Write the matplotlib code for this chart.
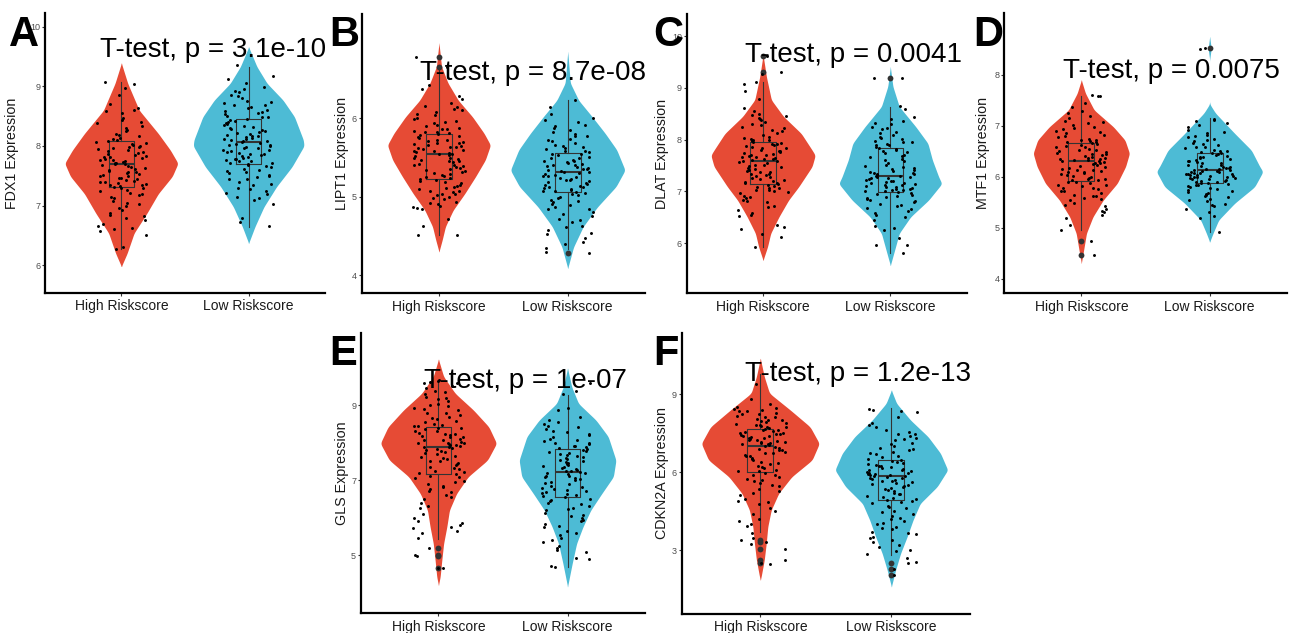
import numpy as np
import matplotlib.pyplot as plt

plt.rcParams['font.family'] = ['Liberation Sans', 'DejaVu Sans']

# ---- data ----
groups = ["High Riskscore", "Low Riskscore"]
genes = ["FDX1", "LIPT1", "DLAT", "MTF1", "GLS", "CDKN2A"]
panel_letters = ["A", "B", "C", "D", "E", "F"]
p_labels = ["3.1e-10", "8.7e-08", "0.0041", "0.0075", "1e-07", "1.2e-13"]
y_ticks = [[6, 7, 8, 9, 10], [4, 5, 6], [6, 7, 8, 9, 10], [4, 5, 6, 7, 8], [5, 7, 9], [3, 6, 9]]
y_limits = [(5.54, 10.23), (3.77, 7.33), (5.03, 10.43), (3.71, 9.21), (3.45, 10.92), (0.54, 11.36)]

# jittered sample values (expression), one list per gene and group
fdx1_high = [9.08, 9.04, 8.97, 8.85, 8.70, 8.64, 8.61, 8.55, 8.47, 8.44, 8.38, 8.31, 8.26, 8.20, 8.16, 8.12, 8.10,
             8.08, 8.05, 8.03, 8.00, 7.98, 7.95, 7.93, 7.90, 7.87, 7.85, 7.82, 7.80, 7.78, 7.76, 7.74, 7.72, 7.71, 7.70,
             7.68, 7.66, 7.63, 7.60, 7.58, 7.56, 7.53, 7.50, 7.49, 7.47, 7.45, 7.42, 7.40, 7.38, 7.36, 7.34, 7.33, 7.32,
             7.29, 7.25, 7.20, 7.14, 7.08, 7.05, 7.00, 6.93, 6.88, 6.82, 6.76, 6.70, 6.62, 6.57, 6.50, 6.31, 6.28,
             8.25, 8.18, 8.13, 8.07, 8.02, 7.97, 7.92, 7.89, 7.84, 7.81, 7.77, 7.73, 7.69, 7.64, 7.61, 7.57, 7.54,
             7.51, 7.46, 7.43, 7.39, 7.35, 7.30, 7.27, 7.22, 7.17, 7.12, 7.02, 6.96, 6.85, 6.79, 6.66, 6.60, 8.40,
             8.58, 8.33, 7.99]
fdx1_low = [9.36, 9.18, 9.12, 9.06, 8.99, 8.95, 8.90, 8.86, 8.80, 8.76, 8.72, 8.68, 8.65, 8.61, 8.57, 8.54, 8.51, 8.48,
            8.45, 8.42, 8.40, 8.37, 8.35, 8.32, 8.29, 8.27, 8.24, 8.22, 8.19, 8.17, 8.15, 8.12, 8.10, 8.09, 8.08,
            8.06, 8.04, 8.02, 8.00, 7.98, 7.96, 7.93, 7.91, 7.89, 7.87, 7.85, 7.83, 7.80, 7.78, 7.76, 7.74, 7.72, 7.71,
            7.68, 7.65, 7.62, 7.58, 7.55, 7.52, 7.48, 7.44, 7.40, 7.34, 7.28, 7.25, 7.20, 7.15, 7.10, 7.02, 6.80, 6.72,
            6.66, 8.92, 8.83, 8.74, 8.63, 8.55, 8.49, 8.43, 8.38, 8.33, 8.30, 8.25, 8.20, 8.16, 8.13, 8.11, 8.05,
            8.01, 7.97, 7.94, 7.90, 7.86, 7.82, 7.79, 7.75, 7.69, 7.66, 7.60, 7.56, 7.50, 7.45, 7.37, 7.30, 7.22,
            7.12, 8.69, 8.59]
lipt1_high = [6.78, 6.66, 6.42, 6.38, 6.25, 6.20, 6.16, 6.12, 6.10, 6.06, 6.04, 6.00, 5.97, 5.94, 5.92, 5.90, 5.88, 5.86,
              5.84, 5.82, 5.81, 5.79, 5.77, 5.75, 5.73, 5.71, 5.69, 5.68, 5.66, 5.64, 5.63, 5.61, 5.60, 5.58, 5.57, 5.56,
              5.54, 5.52, 5.50, 5.48, 5.46, 5.44, 5.42, 5.40, 5.38, 5.36, 5.34, 5.32, 5.30, 5.28, 5.26, 5.25, 5.24,
              5.22, 5.20, 5.17, 5.14, 5.12, 5.10, 5.08, 5.06, 5.04, 5.02, 5.00, 4.97, 4.94, 4.91, 4.88, 4.86, 4.84,
              4.72, 4.63, 4.51, 4.51, 6.28, 6.14, 6.08, 5.99, 5.95, 5.87, 5.83, 5.80, 5.76, 5.72, 5.70, 5.67, 5.65,
              5.62, 5.59, 5.55, 5.53, 5.49, 5.45, 5.41, 5.37, 5.33, 5.29, 5.23, 5.19, 5.15, 5.11, 5.07, 5.03, 4.98,
              4.92, 4.87, 5.47, 5.39]
lipt1_low = [6.24, 6.15, 6.05, 6.00, 5.95, 5.92, 5.88, 5.85, 5.80, 5.77, 5.74, 5.71, 5.68, 5.65, 5.63, 5.61, 5.59, 5.57,
             5.55, 5.53, 5.51, 5.49, 5.47, 5.45, 5.43, 5.42, 5.40, 5.38, 5.37, 5.35, 5.34, 5.33, 5.32,
             5.30, 5.28, 5.27, 5.25, 5.24, 5.22, 5.20, 5.18, 5.16, 5.14, 5.12, 5.11, 5.10, 5.09, 5.08, 5.07,
             5.05, 5.02, 4.99, 4.96, 4.93, 4.90, 4.87, 4.84, 4.80, 4.76, 4.72, 4.68, 4.63, 4.58, 4.54, 4.47, 4.42,
             4.35, 4.30, 4.28, 5.98, 5.90, 5.83, 5.78, 5.72, 5.66, 5.62, 5.58, 5.54, 5.50, 5.46, 5.44, 5.41, 5.36,
             5.31, 5.29, 5.26, 5.23, 5.19, 5.15, 5.13, 5.06, 5.03, 5.00, 4.95, 4.91, 4.85, 4.78, 4.70, 4.61, 4.52,
             4.40, 5.39, 5.21]
dlat_high = [9.62, 9.30, 9.27, 9.12, 9.08, 8.95, 8.78, 8.62, 8.55, 8.50, 8.45, 8.42, 8.38, 8.34, 8.28, 8.22, 8.16, 8.10,
             8.06, 8.02, 7.99, 7.97, 7.94, 7.92, 7.89, 7.86, 7.84, 7.81, 7.78, 7.76, 7.73, 7.71, 7.68, 7.66, 7.64, 7.62,
             7.60, 7.58, 7.55, 7.52, 7.49, 7.46, 7.43, 7.40, 7.37, 7.34, 7.31, 7.28, 7.25, 7.22, 7.19, 7.16, 7.15,
             7.12, 7.09, 7.06, 7.03, 7.00, 6.96, 6.92, 6.88, 6.84, 6.80, 6.72, 6.65, 6.58, 6.52, 6.35, 6.32, 6.28,
             6.18, 6.12, 5.93, 8.48, 8.40, 8.31, 8.25, 8.19, 8.13, 8.04, 8.00, 7.96, 7.91, 7.87, 7.83, 7.79, 7.74,
             7.70, 7.67, 7.63, 7.59, 7.56, 7.51, 7.47, 7.42, 7.38, 7.33, 7.29, 7.24, 7.20, 7.17, 7.11, 7.07, 7.02,
             6.98, 6.90, 6.82, 6.70, 6.55]
dlat_low = [9.20, 9.19, 8.65, 8.60, 8.40, 8.36, 8.30, 8.25, 8.20, 8.15, 8.10, 8.06, 8.02, 7.98, 7.95, 7.92, 7.89, 7.86,
            7.84, 7.81, 7.78, 7.74, 7.70, 7.66, 7.62, 7.58, 7.54, 7.50, 7.47, 7.44, 7.41, 7.38, 7.35, 7.33, 7.31,
            7.29, 7.27, 7.25, 7.23, 7.21, 7.19, 7.17, 7.15, 7.13, 7.11, 7.09, 7.07, 7.05, 7.03, 7.01, 7.00,
            6.98, 6.95, 6.92, 6.89, 6.86, 6.83, 6.80, 6.76, 6.72, 6.68, 6.62, 6.55, 6.50, 6.33, 6.30, 6.25, 6.10,
            5.97, 5.97, 5.80, 8.44, 8.33, 8.22, 8.12, 8.04, 7.96, 7.90, 7.82, 7.76, 7.68, 7.60, 7.52, 7.45, 7.39,
            7.34, 7.30, 7.28, 7.24, 7.20, 7.16, 7.12, 7.08, 7.04, 7.02, 6.97, 6.93, 6.87, 6.81, 6.74, 6.66, 6.58,
            6.45, 7.36, 7.26]
mtf1_high = [7.60, 7.59, 7.58, 7.45, 7.37, 7.30, 7.20, 7.15, 7.10, 7.05, 7.02, 6.98, 6.94, 6.90, 6.86, 6.82, 6.78, 6.75,
             6.72, 6.70, 6.68, 6.66, 6.64, 6.61, 6.58, 6.55, 6.52, 6.50, 6.47, 6.45, 6.42, 6.40, 6.37, 6.35, 6.33,
             6.32, 6.30, 6.28, 6.25, 6.22, 6.19, 6.16, 6.13, 6.10, 6.07, 6.04, 6.01, 5.98, 5.96, 5.94, 5.93,
             5.90, 5.87, 5.84, 5.81, 5.78, 5.75, 5.72, 5.69, 5.65, 5.62, 5.58, 5.54, 5.48, 5.42, 5.36, 5.30, 5.24,
             5.18, 5.05, 4.95, 4.74, 4.47, 7.25, 7.08, 6.96, 6.88, 6.80, 6.73, 6.69, 6.63, 6.59, 6.53, 6.48, 6.44,
             6.39, 6.34, 6.31, 6.27, 6.23, 6.18, 6.14, 6.09, 6.05, 6.00, 5.95, 5.89, 5.83, 5.77, 5.71, 5.63, 5.56,
             5.45, 5.33, 6.36, 6.26, 6.12]
mtf1_low = [8.52, 8.51, 7.14, 7.12, 7.10, 7.05, 6.98, 6.92, 6.86, 6.82, 6.78, 6.74, 6.70, 6.66, 6.62, 6.59, 6.56, 6.53,
            6.50, 6.48, 6.46, 6.44, 6.41, 6.39, 6.36, 6.33, 6.31, 6.28, 6.26, 6.24, 6.22, 6.20, 6.18, 6.16, 6.15,
            6.13, 6.12, 6.10, 6.08, 6.06, 6.05, 6.03, 6.01, 6.00, 5.98, 5.96, 5.94, 5.92, 5.90, 5.89, 5.88,
            5.86, 5.84, 5.81, 5.78, 5.75, 5.72, 5.70, 5.67, 5.64, 5.60, 5.56, 5.52, 5.47, 5.42, 5.37, 5.30, 5.22,
            5.19, 4.91, 7.02, 6.88, 6.80, 6.72, 6.64, 6.58, 6.51, 6.47, 6.43, 6.38, 6.34, 6.30, 6.27, 6.23, 6.19,
            6.17, 6.14, 6.11, 6.09, 6.07, 6.04, 6.02, 5.99, 5.97, 5.95, 5.91, 5.87, 5.83, 5.79, 5.74, 5.68, 5.62,
            5.54, 5.44, 6.06, 6.00]
gls_high = [9.66, 9.64, 9.62, 9.58, 9.52, 9.45, 9.38, 9.30, 9.22, 9.15, 9.10, 9.04, 8.98, 8.92, 8.86, 8.80, 8.74, 8.68,
            8.62, 8.56, 8.50, 8.45, 8.40, 8.35, 8.30, 8.26, 8.22, 8.18, 8.14, 8.10, 8.06, 8.02, 7.99, 7.96, 7.93,
            7.90, 7.88, 7.85, 7.80, 7.75, 7.70, 7.65, 7.60, 7.55, 7.50, 7.45, 7.40, 7.35, 7.30, 7.25, 7.20, 7.17,
            7.12, 7.05, 6.98, 6.90, 6.82, 6.75, 6.68, 6.60, 6.50, 6.40, 6.30, 6.25, 6.10, 6.00, 5.90, 5.80, 5.72,
            5.65, 5.60, 5.45, 5.20, 5.00, 4.97, 4.67, 4.67, 9.60, 9.35, 9.18, 9.00, 8.90, 8.78, 8.66, 8.58, 8.48,
            8.43, 8.38, 8.32, 8.24, 8.16, 8.08, 8.00, 7.94, 7.89, 7.83, 7.77, 7.72, 7.62, 7.52, 7.42, 7.32, 7.22,
            7.08, 6.95, 6.85, 6.70, 6.55, 5.85, 5.75, 8.20, 7.98]
gls_low = [9.59, 9.38, 9.30, 8.91, 8.87, 8.69, 8.55, 8.50, 8.42, 8.35, 8.28, 8.22, 8.16, 8.10, 8.05, 8.00, 7.96, 7.92,
           7.88, 7.85, 7.80, 7.76, 7.72, 7.68, 7.64, 7.60, 7.56, 7.52, 7.48, 7.44, 7.40, 7.36, 7.32, 7.28, 7.25,
           7.20, 7.15, 7.10, 7.05, 7.00, 6.95, 6.90, 6.85, 6.80, 6.76, 6.72, 6.68, 6.64, 6.60, 6.56,
           6.50, 6.44, 6.38, 6.32, 6.26, 6.20, 6.12, 6.05, 5.98, 5.90, 5.82, 5.75, 5.65, 5.55, 5.45, 5.35, 5.25,
           5.15, 5.08, 4.93, 4.90, 4.72, 4.69, 8.60, 8.45, 8.32, 8.19, 8.08, 7.98, 7.90, 7.82, 7.78, 7.70, 7.62,
           7.54, 7.46, 7.38, 7.30, 7.22, 7.18, 7.12, 7.02, 6.92, 6.82, 6.74, 6.66, 6.58, 6.47, 6.35, 6.22, 6.08,
           5.94, 5.78, 5.60, 5.40, 5.20, 7.08, 7.25]
cdkn2a_high = [9.37, 8.80, 8.62, 8.50, 8.42, 8.38, 8.33, 8.28, 8.22, 8.16, 8.10, 8.05, 8.00, 7.95, 7.90, 7.85, 7.80,
               7.76, 7.72, 7.68, 7.62, 7.58, 7.54, 7.50, 7.45, 7.40, 7.36, 7.32, 7.28, 7.24, 7.20, 7.16, 7.12, 7.08,
               7.04, 6.96, 6.90, 6.84, 6.78, 6.72, 6.66, 6.60, 6.54, 6.48, 6.40, 6.32, 6.24, 6.16, 6.08, 6.03,
               5.96, 5.88, 5.80, 5.72, 5.65, 5.56, 5.46, 5.35, 5.28, 5.10, 4.95, 4.85, 4.78, 4.60, 4.50, 4.20, 4.10,
               3.92, 3.65, 3.45, 3.40, 3.30, 3.25, 3.05, 2.60, 2.50, 2.47, 8.45, 8.36, 8.25, 8.13, 8.02, 7.92, 7.82,
               7.74, 7.66, 7.60, 7.52, 7.46, 7.38, 7.30, 7.22, 7.14, 7.06, 7.00, 6.93, 6.86, 6.75, 6.63, 6.50, 6.36,
               6.20, 6.05, 5.90, 5.68, 5.50, 5.20, 4.90, 4.40, 4.00, 7.44, 7.10]
cdkn2a_low = [8.43, 8.40, 8.36, 8.10, 7.90, 7.75, 7.62, 7.55, 7.48, 7.40, 7.32, 7.22, 7.12, 7.02, 6.92, 6.84, 6.76,
              6.68, 6.60, 6.52, 6.42, 6.38, 6.32, 6.26, 6.22, 6.18, 6.12, 6.08, 6.04, 6.00, 5.96, 5.93, 5.90, 5.88,
              5.86, 5.82, 5.76, 5.70, 5.64, 5.58, 5.52, 5.46, 5.40, 5.34, 5.28, 5.20, 5.14, 5.08, 5.02, 4.96,
              4.88, 4.80, 4.70, 4.60, 4.50, 4.40, 4.30, 4.20, 4.10, 4.00, 3.90, 3.80, 3.70, 3.60, 3.50, 3.40, 3.30,
              3.20, 3.10, 2.95, 2.85, 2.70, 2.55, 2.50, 2.28, 2.05, 8.30, 7.80, 7.45, 7.28, 7.08, 6.88, 6.72, 6.56,
              6.45, 6.35, 6.24, 6.14, 6.06, 5.98, 5.91, 5.84, 5.78, 5.66, 5.55, 5.43, 5.31, 5.17, 5.05, 4.94, 4.84,
              4.65, 4.45, 4.25, 4.05, 3.85, 3.65, 3.45, 3.00, 5.72, 5.60]

# box statistics: (lower whisker, q1, median, q3, upper whisker) and outliers
box_high = [(6.28, 7.31, 7.69, 8.09, 9.08), (4.51, 5.23, 5.55, 5.80, 6.62), (5.93, 7.14, 7.59, 7.95, 9.12),
            (4.95, 5.92, 6.31, 6.67, 7.59), (5.44, 7.15, 7.87, 8.42, 9.67), (3.70, 6.01, 7.00, 7.65, 9.79)]
box_low = [(6.65, 7.70, 8.07, 8.46, 9.33), (4.34, 5.06, 5.31, 5.56, 6.23), (5.80, 6.99, 7.30, 7.83, 8.64),
           (4.92, 5.87, 6.14, 6.47, 7.15), (4.69, 6.54, 7.22, 7.82, 9.27), (2.81, 4.92, 5.85, 6.46, 8.45)]
outliers_high = [[], [6.78, 6.66], [9.30, 9.62], [4.74, 4.47], [5.20, 5.00, 4.97, 4.67], [3.40, 3.30, 3.05, 2.60, 2.50]]
outliers_low = [[], [4.28], [9.20], [8.52], [], [2.50, 2.28, 2.05]]

# violin outline: (expression, half width in category units)
violin_high = [
    [(5.98, 0), (6.2, 0.045), (6.54, 0.10), (6.87, 0.20), (7.2, 0.29), (7.49, 0.40), (7.71, 0.445), (7.93, 0.385),
     (8.21, 0.29), (8.6, 0.14), (9.05, 0.05), (9.39, 0)],
    [(4.30, 0), (4.45, 0.025), (4.62, 0.05), (4.83, 0.11), (5.04, 0.20), (5.26, 0.285), (5.47, 0.36), (5.66, 0.40),
     (5.81, 0.35), (6.02, 0.26), (6.23, 0.15), (6.45, 0.07), (6.66, 0.02), (6.96, 0)],
    [(5.67, 0), (5.93, 0.035), (6.19, 0.06), (6.51, 0.125), (6.83, 0.2), (7.09, 0.28), (7.48, 0.385), (7.7, 0.41),
     (7.8, 0.385), (8.12, 0.30), (8.45, 0.16), (8.77, 0.065), (9.22, 0.026), (9.64, 0)],
    [(4.3, 0), (4.56, 0.018), (4.89, 0.04), (5.21, 0.09), (5.54, 0.17), (5.87, 0.28), (6.2, 0.345), (6.46, 0.375),
     (6.72, 0.34), (6.98, 0.25), (7.31, 0.10), (7.64, 0.032), (7.9, 0)],
    [(4.2, 0), (4.42, 0.013), (4.87, 0.026), (5.31, 0.04), (5.76, 0.065), (6.2, 0.085), (6.64, 0.14), (7.09, 0.23),
     (7.53, 0.38), (7.98, 0.45), (8.42, 0.39), (8.87, 0.27), (9.31, 0.13), (9.76, 0.04), (10.22, 0)],
    [(1.85, 0), (1.97, 0.006), (2.62, 0.03), (3.26, 0.045), (3.9, 0.057), (4.54, 0.083), (5.18, 0.14), (5.82, 0.24),
     (6.46, 0.395), (7.1, 0.45), (7.74, 0.38), (8.38, 0.23), (9.03, 0.07), (9.67, 0.03), (10.37, 0)],
]
violin_low = [
    [(6.37, 0), (6.65, 0.05), (6.98, 0.12), (7.32, 0.22), (7.65, 0.34), (8.0, 0.435), (8.1, 0.43), (8.49, 0.36),
     (8.77, 0.27), (9.05, 0.145), (9.33, 0.065), (9.66, 0)],
    [(4.09, 0), (4.36, 0.045), (4.62, 0.12), (4.87, 0.23), (5.13, 0.375), (5.34, 0.445), (5.6, 0.38), (5.81, 0.29),
     (6.02, 0.19), (6.23, 0.085), (6.45, 0.02), (6.85, 0)],
    [(5.57, 0), (5.86, 0.033), (6.19, 0.07), (6.51, 0.16), (6.83, 0.30), (7.15, 0.405), (7.28, 0.38), (7.61, 0.33),
     (7.93, 0.295), (8.25, 0.2), (8.64, 0.07), (9.03, 0.02), (9.41, 0)],
    [(4.72, 0), (4.89, 0.026), (5.15, 0.07), (5.48, 0.195), (5.8, 0.35), (6.1, 0.415), (6.2, 0.39), (6.52, 0.325),
     (6.85, 0.195), (7.25, 0.045), (7.43, 0), (8.3, 0), (8.52, 0.012), (8.75, 0)],
    [(4.16, 0), (4.78, 0.036), (5.31, 0.07), (5.76, 0.12), (6.2, 0.18), (6.64, 0.265), (7.09, 0.355), (7.53, 0.375),
     (8.16, 0.315), (8.6, 0.22), (9.04, 0.085), (9.49, 0.032), (9.98, 0)],
    [(1.59, 0), (2.23, 0.032), (2.87, 0.07), (3.51, 0.12), (4.15, 0.165), (4.79, 0.22), (5.44, 0.35), (6.08, 0.43),
     (6.72, 0.375), (7.36, 0.28), (8.0, 0.146), (8.64, 0.04), (9.15, 0)],
]

points_high = [fdx1_high, lipt1_high, dlat_high, mtf1_high, gls_high, cdkn2a_high]
points_low = [fdx1_low, lipt1_low, dlat_low, mtf1_low, gls_low, cdkn2a_low]

# ---- layout (pixels) ----
W, H = 1293, 633
colors = ["#E64B35", "#4DBBD5"]
axes_px = [(45, 13, 325, 292.7), (361.7, 14, 645, 293.3), (686.7, 14, 966.7, 293.3),
           (1004.3, 13.3, 1286.7, 293.3), (361, 333, 645, 613.3), (681.7, 332.7, 970, 614)]
letter_px = [(9, 15), (329, 15), (653, 15), (973, 15), (329, 334), (653, 334)]
ptext_px = [(100, 57), (420, 80), (745, 62), (1063, 77.5), (424, 387.5), (745, 381)]
ylabel_x = [12, 342, 662, 983, 342, 662]


def jitter(n, seed):
    # deterministic scatter of the x positions (like geom_jitter, width 0.2)
    k = np.arange(n) + seed * 1000
    h = np.sin(k * 12.9898 + 78.233) * 43758.5453
    return (h - np.floor(h) - 0.5) * 0.4


def draw_violin(ax, x0, outline, color):
    v = np.array([p[0] for p in outline])
    w = np.array([p[1] for p in outline])
    yy = np.linspace(v.min(), v.max(), 400)
    ww = np.interp(yy, v, w)
    kern = np.hanning(17)
    ww = np.convolve(ww, kern / kern.sum(), mode='same')
    ax.fill_betweenx(yy, x0 - ww, x0 + ww, color=color, lw=0, zorder=1)


fig = plt.figure(figsize=(W / 100, H / 100), dpi=100)

for i, gene in enumerate(genes):
    l, t, r, b = axes_px[i]
    ax = fig.add_axes([l / W, 1 - b / H, (r - l) / W, (b - t) / H])
    ax.set_xlim(0.4, 2.6)
    ax.set_ylim(*y_limits[i])

    draw_violin(ax, 1, violin_high[i], colors[0])
    draw_violin(ax, 2, violin_low[i], colors[1])

    stats = []
    for box, fl in [(box_high[i], outliers_high[i]), (box_low[i], outliers_low[i])]:
        stats.append(dict(whislo=box[0], q1=box[1], med=box[2], q3=box[3], whishi=box[4], fliers=fl))
    ax.bxp(stats, positions=[1, 2], widths=0.2, showcaps=False, patch_artist=False,
           boxprops=dict(color='#333333', lw=0.8),
           whiskerprops=dict(color='#333333', lw=0.8),
           medianprops=dict(color='#333333', lw=1.5),
           flierprops=dict(marker='o', markersize=4.2, markerfacecolor='#333333',
                           markeredgecolor='#333333', markeredgewidth=0),
           zorder=2)

    for j, pts in enumerate([points_high[i], points_low[i]]):
        pts = np.array(pts)
        xs = j + 1 + jitter(len(pts), i * 2 + j)
        ax.scatter(xs, pts, s=4.5, c='black', lw=0, zorder=4)

    ax.text(ptext_px[i][0] / W, 1 - ptext_px[i][1] / H, f"T-test, p = {p_labels[i]}",
            transform=fig.transFigure, fontsize=20, ha='left', va='baseline',
            color='black', zorder=3, clip_on=False)

    for side in ['top', 'right']:
        ax.spines[side].set_visible(False)
    for side in ['left', 'bottom']:
        ax.spines[side].set_linewidth(1.6)
        ax.spines[side].set_color('black')

    ax.set_xticks([1, 2])
    ax.set_xticklabels(groups)
    ax.set_yticks(y_ticks[i])
    ax.tick_params(axis='x', length=2.5, width=0.8, color='#333333', labelsize=10,
                   labelcolor='#1a1a1a', pad=2)
    ax.tick_params(axis='y', length=2.5, width=0.8, color='#333333', labelsize=6.5,
                   labelcolor='#4d4d4d', pad=1)

    fig.text(ylabel_x[i] / W, 1 - (t + b) / 2 / H, f"{gene} Expression", rotation=90,
             fontsize=10.3, ha='center', va='center', color='#1a1a1a')
    fig.text(letter_px[i][0] / W, 1 - letter_px[i][1] / H, panel_letters[i], fontsize=30,
             fontweight='bold', ha='left', va='top', color='black')

fig.savefig('out.png', dpi=100)
